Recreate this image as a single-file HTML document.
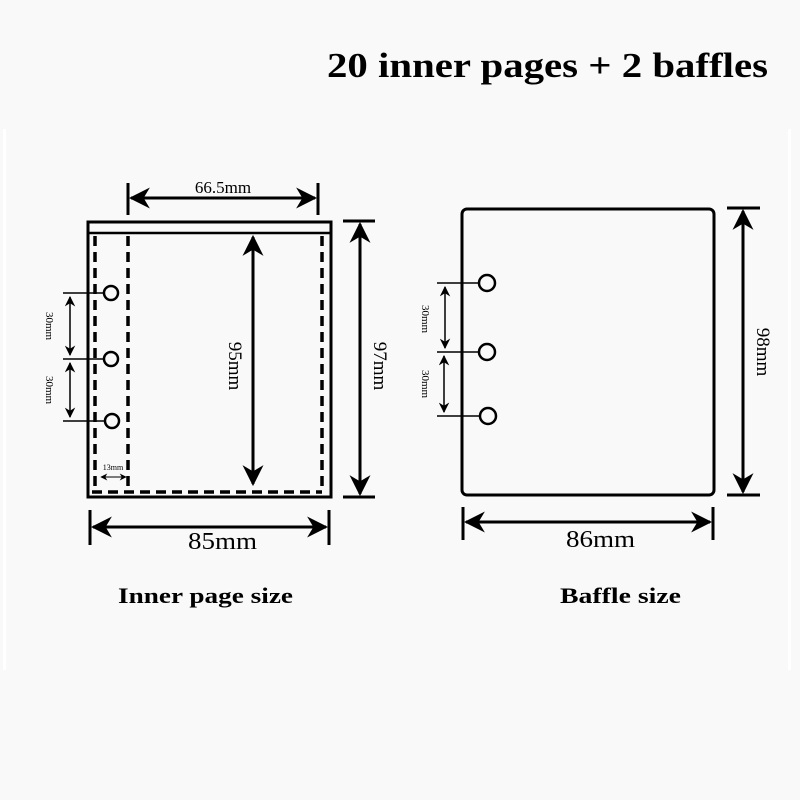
<!DOCTYPE html>
<html><head><style>
html,body{margin:0;padding:0;background:#f9f9f9;}
svg{display:block;}
text{font-family:"Liberation Serif",serif;fill:#000;}
</style></head><body>
<svg width="800" height="800" viewBox="0 0 800 800" xmlns="http://www.w3.org/2000/svg">
<defs>
<marker id="a" viewBox="0 0 10 10" refX="9" refY="5" markerWidth="7" markerHeight="7" orient="auto-start-reverse" markerUnits="strokeWidth"><path d="M0,0 L10,5 L0,10 L3,5 z" fill="#000"/></marker>
<marker id="s" viewBox="0 0 10 10" refX="9" refY="5" markerWidth="7" markerHeight="7" orient="auto-start-reverse" markerUnits="strokeWidth"><path d="M0,0 L10,5 L0,10 L3,5 z" fill="#000"/></marker>
</defs>
<rect x="0" y="0" width="800" height="800" fill="#f9f9f9"/>
<rect x="3" y="129" width="3" height="541" fill="#fff"/>
<rect x="788" y="129" width="3" height="541" fill="#fff"/>
<text x="327" y="77" font-size="35" font-weight="bold" textLength="441" lengthAdjust="spacingAndGlyphs">20 inner pages + 2 baffles</text>

<g stroke="#000" fill="none">
<rect x="88" y="222" width="243" height="275" stroke-width="3"/>
<line x1="89" y1="233" x2="330" y2="233" stroke-width="2.5"/>
<g stroke-width="3.5" stroke-dasharray="10,6">
<line x1="95" y1="236" x2="95" y2="491"/>
<line x1="128" y1="236" x2="128" y2="491"/>
<line x1="322" y1="236" x2="322" y2="491"/>
<line x1="92" y1="492" x2="322" y2="492"/>
</g>
<g stroke-width="2.5">
<circle cx="111" cy="293" r="7"/><circle cx="111" cy="359" r="7"/><circle cx="112" cy="421" r="7"/>
</g>
<g stroke-width="1.5">
<line x1="63" y1="293" x2="104" y2="293"/><line x1="63" y1="359" x2="104" y2="359"/><line x1="63" y1="421" x2="105" y2="421"/>
<line x1="70" y1="297" x2="70" y2="355" marker-start="url(#s)" marker-end="url(#s)"/>
<line x1="70" y1="363" x2="70" y2="417" marker-start="url(#s)" marker-end="url(#s)"/>
<line x1="101" y1="477" x2="126" y2="477" stroke-width="1" marker-start="url(#s)" marker-end="url(#s)"/>
</g>
<g stroke-width="3">
<line x1="128" y1="183" x2="128" y2="215"/><line x1="318" y1="183" x2="318" y2="215"/>
<line x1="131" y1="198" x2="315" y2="198" marker-start="url(#a)" marker-end="url(#a)"/>
<line x1="253" y1="237" x2="253" y2="484" marker-start="url(#a)" marker-end="url(#a)"/>
<line x1="343" y1="221" x2="375" y2="221"/><line x1="343" y1="497" x2="375" y2="497"/>
<line x1="360" y1="224" x2="360" y2="494" marker-start="url(#a)" marker-end="url(#a)"/>
<line x1="90" y1="510" x2="90" y2="545"/><line x1="329" y1="510" x2="329" y2="545"/>
<line x1="93" y1="527" x2="326" y2="527" marker-start="url(#a)" marker-end="url(#a)"/>
</g>
<rect x="462" y="209" width="252" height="286" rx="5" stroke-width="3"/>
<g stroke-width="2.5">
<circle cx="487" cy="283" r="8"/><circle cx="487" cy="352" r="8"/><circle cx="488" cy="416" r="8"/>
</g>
<g stroke-width="1.5">
<line x1="437" y1="283" x2="479" y2="283"/><line x1="437" y1="352" x2="479" y2="352"/><line x1="437" y1="416" x2="480" y2="416"/>
<line x1="445" y1="287" x2="445" y2="348" marker-start="url(#s)" marker-end="url(#s)"/>
<line x1="444" y1="356" x2="444" y2="412" marker-start="url(#s)" marker-end="url(#s)"/>
</g>
<g stroke-width="3">
<line x1="727" y1="208" x2="760" y2="208"/><line x1="727" y1="495" x2="760" y2="495"/>
<line x1="743" y1="211" x2="743" y2="492" marker-start="url(#a)" marker-end="url(#a)"/>
<line x1="463" y1="507" x2="463" y2="540"/><line x1="713" y1="507" x2="713" y2="540"/>
<line x1="466" y1="522" x2="710" y2="522" marker-start="url(#a)" marker-end="url(#a)"/>
</g>
</g>

<text x="223" y="193" font-size="17" text-anchor="middle">66.5mm</text>
<text x="188" y="549" font-size="24" textLength="69" lengthAdjust="spacingAndGlyphs">85mm</text>
<text x="566" y="547" font-size="24" textLength="69" lengthAdjust="spacingAndGlyphs">86mm</text>
<text transform="translate(229,366) rotate(90)" font-size="19" text-anchor="middle">95mm</text>
<text transform="translate(374,366) rotate(90)" font-size="19" text-anchor="middle">97mm</text>
<text transform="translate(757,352) rotate(90)" font-size="19" text-anchor="middle">98mm</text>
<text transform="translate(46,326) rotate(90)" font-size="11" text-anchor="middle">30mm</text>
<text transform="translate(46,390) rotate(90)" font-size="11" text-anchor="middle">30mm</text>
<text transform="translate(422,319) rotate(90)" font-size="11" text-anchor="middle">30mm</text>
<text transform="translate(422,384) rotate(90)" font-size="11" text-anchor="middle">30mm</text>
<text x="113" y="470" font-size="8" text-anchor="middle">13mm</text>
<text x="118" y="603" font-size="22" font-weight="bold" textLength="175" lengthAdjust="spacingAndGlyphs">Inner page size</text>
<text x="560" y="603" font-size="22" font-weight="bold" textLength="121" lengthAdjust="spacingAndGlyphs">Baffle size</text>
</svg>
</body></html>
